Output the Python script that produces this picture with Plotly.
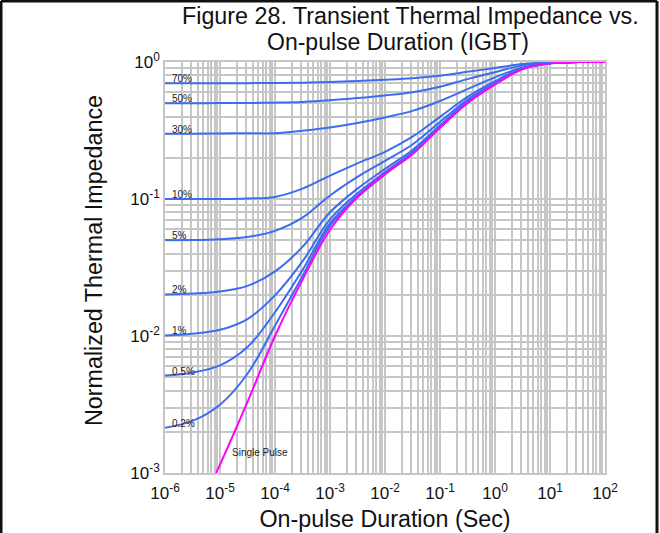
import math
import plotly.graph_objects as go

# On-pulse duration (s) for the duty-cycle curves, half-decade steps
t_duty = [1e-6, 3.16e-6, 1e-5, 3.16e-5, 1e-4, 3.16e-4, 1e-3, 3.16e-3, 1e-2,
          3.16e-2, 0.1, 0.316, 1.0, 3.16, 10.0, 31.6, 100.0]

# Normalized thermal impedance for each duty cycle
z_70 = [0.700, 0.700, 0.700, 0.701, 0.703, 0.707, 0.716, 0.728, 0.743,
        0.762, 0.795, 0.848, 0.905, 0.966, 0.994, 0.999, 1.0]
z_50 = [0.500, 0.500, 0.501, 0.502, 0.505, 0.511, 0.525, 0.545, 0.570,
        0.602, 0.660, 0.750, 0.843, 0.945, 0.990, 0.999, 1.0]
z_30 = [0.300, 0.300, 0.301, 0.302, 0.302, 0.315, 0.333, 0.359, 0.394,
        0.4395, 0.519, 0.634, 0.773, 0.912, 0.984, 0.999, 1.0]
z_10 = [0.100, 0.100, 0.100, 0.101, 0.1035, 0.119, 0.148, 0.182, 0.221,
        0.285, 0.398, 0.556, 0.724, 0.902, 0.984, 0.998, 1.0]
z_5 = [0.0501, 0.0502, 0.0509, 0.0528, 0.0585, 0.0730, 0.106, 0.145, 0.190,
       0.250, 0.365, 0.531, 0.703, 0.895, 0.982, 0.998, 1.0]
z_2 = [0.0201, 0.0204, 0.0211, 0.0232, 0.0296, 0.0447, 0.0800, 0.119, 0.166,
       0.228, 0.345, 0.516, 0.693, 0.891, 0.980, 0.998, 1.0]
z_1 = [0.0101, 0.0104, 0.0111, 0.0133, 0.0198, 0.0350, 0.0710, 0.110, 0.157,
       0.220, 0.338, 0.511, 0.690, 0.890, 0.979, 0.998, 1.0]
z_05 = [0.00514, 0.0054, 0.0061, 0.0083, 0.0149, 0.0303, 0.0665, 0.1055, 0.153,
        0.216, 0.335, 0.508, 0.689, 0.890, 0.978, 0.998, 1.0]
z_02 = [0.00214, 0.0024, 0.00315, 0.0053, 0.0119, 0.0274, 0.0637, 0.103, 0.151,
        0.214, 0.333, 0.505, 0.688, 0.889, 0.978, 0.998, 1.0]

duty_labels = ["70%", "50%", "30%", "10%", "5%", "2%", "1%", "0.5%", "0.2%"]
duty_series = [z_70, z_50, z_30, z_10, z_5, z_2, z_1, z_05, z_02]

# Single pulse response
t_single = [8.5e-6, 1e-5, 3.16e-5, 1e-4, 3.16e-4, 1e-3, 3.16e-3, 1e-2, 3.16e-2,
            0.1, 0.316, 1.0, 3.16, 10.0, 31.6, 100.0]
z_single = [0.00100, 0.00115, 0.0033, 0.0100, 0.0257, 0.0596, 0.1035, 0.153,
            0.2125, 0.331, 0.501, 0.686, 0.888, 0.977, 0.998, 1.0]

x_tick_vals = [1e-6, 1e-5, 1e-4, 1e-3, 1e-2, 1e-1, 1e0, 1e1, 1e2]
x_tick_text = ["10<sup>-6</sup>", "10<sup>-5</sup>", "10<sup>-4</sup>",
               "10<sup>-3</sup>", "10<sup>-2</sup>", "10<sup>-1</sup>",
               "10<sup>0</sup>", "10<sup>1</sup>", "10<sup>2</sup>"]
y_tick_vals = [1e-3, 1e-2, 1e-1, 1e0]
y_tick_text = ["10<sup>-3</sup>", "10<sup>-2</sup>", "10<sup>-1</sup>", "10<sup>0</sup>"]

FONT = "Liberation Sans, Arial, sans-serif"
BLUE = "#3c6df0"
MAGENTA = "#ff00ff"
GRID = "#c6c6c6"

fig = go.Figure()

for name, z in zip(duty_labels, duty_series):
    fig.add_trace(go.Scatter(
        x=t_duty, y=z, mode="lines", name=name,
        line=dict(color=BLUE, width=2, shape="spline", smoothing=1.0),
        hoverinfo="skip", showlegend=False))

fig.add_trace(go.Scatter(
    x=t_single, y=z_single, mode="lines", name="Single Pulse",
    line=dict(color=MAGENTA, width=2, shape="spline", smoothing=1.0),
    hoverinfo="skip", showlegend=False))

# Duty-cycle labels sit just above each curve at the left edge
label_x = math.log10(1.22e-6)
for name, z in zip(duty_labels, duty_series):
    fig.add_annotation(
        x=label_x, y=math.log10(z[0]), xref="x", yref="y",
        text=name, showarrow=False, xanchor="left", yanchor="bottom",
        yshift=-3, font=dict(family=FONT, size=10, color="#222222"))

fig.add_annotation(
    x=-4.27, y=-2.85, xref="x", yref="y", text="Single Pulse",
    showarrow=False, xanchor="center", yanchor="middle",
    font=dict(family=FONT, size=10, color="#222222"))

# Two-line heading
fig.add_annotation(
    x=(410 - 165) / 440, y=(473 - 16.5) / 411, xref="paper", yref="paper",
    text="Figure 28. Transient Thermal Impedance vs.", showarrow=False,
    xanchor="center", yanchor="middle",
    font=dict(family=FONT, size=23.3, color="#111111"))
fig.add_annotation(
    x=(398 - 165) / 440, y=(473 - 42.5) / 411, xref="paper", yref="paper",
    text="On-pulse Duration (IGBT)", showarrow=False,
    xanchor="center", yanchor="middle",
    font=dict(family=FONT, size=23, color="#111111"))

# Vertical axis title
fig.add_annotation(
    x=(94 - 165) / 440, y=(473 - 261) / 411, xref="paper", yref="paper",
    text="Normalized Thermal Impedance", showarrow=False, textangle=-90,
    xanchor="center", yanchor="middle",
    font=dict(family=FONT, size=23.3, color="#111111"))


def minor_vals(lo, hi):
    vals = []
    for e in range(lo, hi):
        for m in range(2, 10):
            vals.append(m * 10.0 ** e)
    return vals


fig.update_xaxes(
    type="log", range=[-6, 2], automargin=False,
    tickvals=x_tick_vals, ticktext=x_tick_text,
    showgrid=True, gridcolor=GRID, gridwidth=1.5,
    minor=dict(tickvals=minor_vals(-6, 2), showgrid=True, gridcolor=GRID,
               gridwidth=1.5, ticks=""),
    showline=True, linecolor=GRID, linewidth=1.5, mirror=True,
    ticks="", ticklen=0, zeroline=False, ticklabelstandoff=4,
    tickfont=dict(family=FONT, size=17, color="#111111"),
    title=dict(text="On-pulse Duration (Sec)", standoff=9,
               font=dict(family=FONT, size=23.3, color="#111111")))

fig.update_yaxes(
    type="log", range=[-3, 0], automargin=False,
    tickvals=y_tick_vals, ticktext=y_tick_text,
    showgrid=True, gridcolor=GRID, gridwidth=1.5,
    minor=dict(tickvals=minor_vals(-3, 0), showgrid=True, gridcolor=GRID,
               gridwidth=1.5, ticks=""),
    showline=True, linecolor=GRID, linewidth=1.5, mirror=True,
    ticks="", ticklen=0, zeroline=False,
    tickfont=dict(family=FONT, size=17, color="#111111"))

# Black frame around the figure (top, left, right edges)
frame = dict(type="line", xref="paper", yref="paper",
             line=dict(color="#111111", width=3), layer="above")
fig.add_shape(x0=-0.3727, x1=1.1182, y0=1.1484, y1=1.1484, **frame)
fig.add_shape(x0=-0.3727, x1=-0.3727, y0=1.1484, y1=-0.2, **frame)
fig.add_shape(x0=1.1182, x1=1.1182, y0=1.1484, y1=-0.2, **frame)

fig.update_layout(
    width=660, height=533,
    margin=dict(l=165, r=55, t=62, b=60),
    paper_bgcolor="white", plot_bgcolor="white",
    font=dict(family=FONT, color="#111111"),
    showlegend=False)

fig.write_html("out.html")
